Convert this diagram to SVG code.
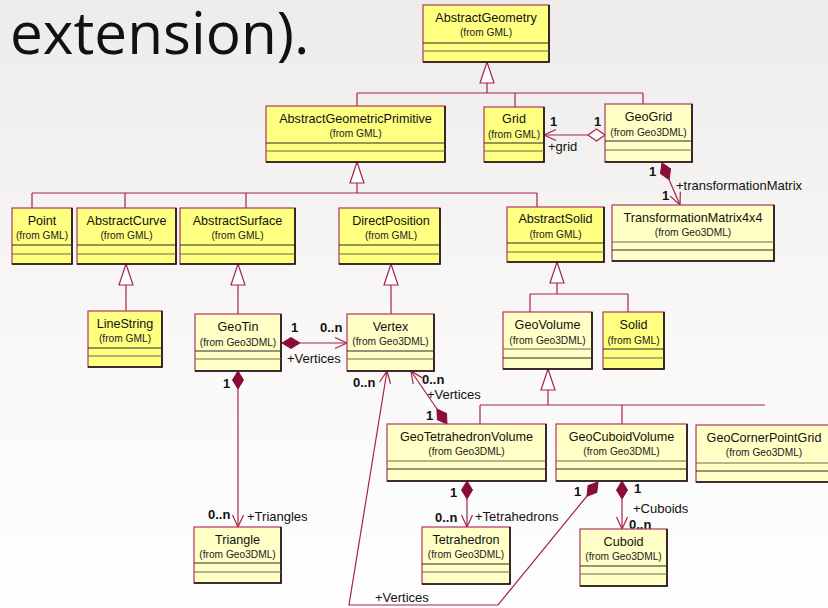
<svg xmlns="http://www.w3.org/2000/svg" xmlns:xlink="http://www.w3.org/1999/xlink" width="828" height="608" viewBox="0 0 828 608">
  <defs>
    <linearGradient id="bg" x1="0" y1="0" x2="0" y2="1">
      <stop offset="0" stop-color="#eeeceb"/>
      <stop offset="0.5" stop-color="#f8f7f6"/>
      <stop offset="1" stop-color="#fefefe"/>
    </linearGradient>
    <!-- composition diamond, pointing along +x from its origin -->
    <path id="dFill" d="M0 0 L9 -5.5 L18 0 L9 5.5 Z" fill="#8a0c38" stroke="#8a0c38" stroke-width="1"/>
    <!-- aggregation diamond -->
    <path id="dOpen" d="M0 0 L8.5 -6 L17 0 L8.5 6 Z" fill="#ffffff" stroke="#a5224f" stroke-width="1.2"/>
    <!-- open navigation arrow, tip at origin -->
    <path id="arr" d="M-12 -5.5 L0 0 L-12 5.5" fill="none" stroke="#a5224f" stroke-width="1.2"/>
    <!-- generalization triangle, tip at origin, pointing up -->
    <path id="gen" d="M0 0 L-7 21 L7 21 Z" fill="#ffffff" stroke="#a5224f" stroke-width="1.2"/>
  </defs>
  <style>
    .gml { fill: #ffff80; }
    .g3d { fill: #ffffc6; }
    .frame { stroke: #b03663; stroke-width: 1.2; }
    .shade { fill: none; stroke: #111; stroke-width: 1.6; }
    .sep1 { stroke: #2b2b2b; stroke-width: 1.2; }
    .sep2 { stroke: #6d6b50; stroke-width: 1.2; }
    .title { font-family: "Liberation Sans", Arial, sans-serif; font-size: 12.6px; fill: #111; text-anchor: middle; }
    .from { font-family: "Liberation Sans", Arial, sans-serif; font-size: 10.2px; fill: #222; text-anchor: middle; }
    .lbl { font-family: "Liberation Sans", Arial, sans-serif; font-size: 13px; fill: #111; }
    .mul { font-family: "Liberation Sans", Arial, sans-serif; font-size: 13px; font-weight: bold; fill: #111; }
    .conn { fill: none; stroke: #a5224f; stroke-width: 1.2; }
  </style>

  <rect x="0" y="0" width="828" height="608" fill="url(#bg)"/>

  <text x="10" y="54" font-family="'Open Sans', 'Noto Sans', sans-serif" font-size="58.5" fill="#111">extension).</text>

  <!-- connectors -->
  <g id="connectors">
    <!-- AbstractGeometry specialisations -->
    <path class="conn" d="M487 83 V93 M357 93 H643 M357 93 V106 M515 93 V107 M643 93 V104"/>
    <use href="#gen" x="487" y="62"/>
    <!-- AbstractGeometricPrimitive specialisations -->
    <path class="conn" d="M357 183 V193 M32 193 H537 M32 193 V208 M125 193 V208 M246 193 V208 M537 193 V207"/>
    <use href="#gen" x="357" y="162"/>
    <!-- AbstractCurve -> LineString -->
    <path class="conn" d="M126 285 V311"/>
    <use href="#gen" x="126" y="264"/>
    <!-- AbstractSurface -> GeoTin -->
    <path class="conn" d="M238 285 V314"/>
    <use href="#gen" x="238" y="264"/>
    <!-- DirectPosition -> Vertex -->
    <path class="conn" d="M391 285 V314"/>
    <use href="#gen" x="391" y="264"/>
    <!-- AbstractSolid -> GeoVolume, Solid -->
    <path class="conn" d="M557 283 V294 M530 294 H628 M530 294 V312 M628 294 V312"/>
    <use href="#gen" x="557" y="262"/>
    <!-- GeoVolume -> volume kinds -->
    <path class="conn" d="M548 390 V405 M480 405 H765 M480 405 V424 M622 405 V424"/>
    <use href="#gen" x="548" y="369"/>

    <!-- GeoGrid o-> Grid -->
    <path class="conn" d="M544 135 H588"/>
    <use href="#dOpen" transform="translate(605,135) rotate(180)"/>
    <use href="#arr" transform="translate(544,135) rotate(180)"/>

    <!-- GeoGrid *-> TransformationMatrix4x4 -->
    <path class="conn" d="M669 179.5 L680 205"/>
    <use href="#dFill" transform="translate(662,163) rotate(66.8)"/>
    <use href="#arr" transform="translate(680,205) rotate(66.8)"/>

    <!-- GeoTin *-> Vertex -->
    <path class="conn" d="M300 343 H347"/>
    <use href="#dFill" transform="translate(282,343) rotate(0)"/>
    <use href="#arr" transform="translate(347,343)"/>

    <!-- GeoTin *-> Triangle -->
    <path class="conn" d="M238 389 V527"/>
    <use href="#dFill" transform="translate(238,371) rotate(90)"/>
    <use href="#arr" transform="translate(238,527) rotate(90)"/>

    <!-- GeoTetrahedronVolume *-> Tetrahedron -->
    <path class="conn" d="M467 499 V527"/>
    <use href="#dFill" transform="translate(467,481) rotate(90)"/>
    <use href="#arr" transform="translate(467,527) rotate(90)"/>

    <!-- GeoCuboidVolume *-> Cuboid -->
    <path class="conn" d="M622 499 V529"/>
    <use href="#dFill" transform="translate(622,481) rotate(90)"/>
    <use href="#arr" transform="translate(622,529) rotate(90)"/>

    <!-- GeoTetrahedronVolume *-> Vertex -->
    <path class="conn" d="M437 409 L411 371"/>
    <use href="#dFill" transform="translate(447,424) rotate(-124)"/>
    <use href="#arr" transform="translate(411,371) rotate(-124)"/>

    <!-- GeoCuboidVolume *-> Vertex -->
    <path class="conn" d="M587 496 L498 605 H349 L387 371"/>
    <use href="#dFill" transform="translate(598,482) rotate(128)"/>
    <use href="#arr" transform="translate(387,371) rotate(-80.8)"/>

    <!-- role names and multiplicities -->
    <text class="mul" x="550" y="126">1</text>
    <text class="mul" x="594" y="126">1</text>
    <text class="lbl" x="548" y="151">+grid</text>

    <text class="mul" x="649" y="176">1</text>
    <text class="lbl" x="676" y="190">+transformationMatrix</text>
    <text class="mul" x="662" y="200">1</text>

    <text class="mul" x="291" y="332">1</text>
    <text class="mul" x="320" y="332">0..n</text>
    <text class="lbl" x="287" y="363">+Vertices</text>

    <text class="mul" x="223" y="388">1</text>
    <text class="mul" x="208" y="519">0..n</text>
    <text class="lbl" x="247" y="521">+Triangles</text>

    <text class="mul" x="450" y="497">1</text>
    <text class="mul" x="435" y="522">0..n</text>
    <text class="lbl" x="475" y="521">+Tetrahedrons</text>

    <text class="mul" x="634" y="493">1</text>
    <text class="lbl" x="633" y="513">+Cuboids</text>
    <text class="mul" x="629" y="529">0..n</text>

    <text class="mul" x="574" y="496">1</text>
    <text class="mul" x="422" y="384">0..n</text>
    <text class="lbl" x="427" y="399">+Vertices</text>
    <text class="mul" x="426" y="420">1</text>

    <text class="mul" x="353" y="387">0..n</text>
    <text class="lbl" x="375" y="602">+Vertices</text>
  </g>

  <!-- classes -->
  <g id="AbstractGeometry">
    <rect class="gml frame" x="423" y="5" width="126" height="57"/>
    <path class="shade" d="M549 5 V62 H423"/>
    <line class="sep1" x1="423" y1="43" x2="549" y2="43"/>
    <line class="sep2" x1="423" y1="51" x2="549" y2="51"/>
    <text class="title" x="486" y="22">AbstractGeometry</text>
    <text class="from" x="486" y="36">(from GML)</text>
  </g>

  <g id="AbstractGeometricPrimitive">
    <rect class="gml frame" x="266" y="106" width="179" height="56"/>
    <path class="shade" d="M445 106 V162 H266"/>
    <line class="sep1" x1="266" y1="143" x2="445" y2="143"/>
    <line class="sep2" x1="266" y1="151" x2="445" y2="151"/>
    <text class="title" x="355.5" y="123">AbstractGeometricPrimitive</text>
    <text class="from" x="355.5" y="137">(from GML)</text>
  </g>

  <g id="Grid">
    <rect class="gml frame" x="484" y="107" width="60" height="55"/>
    <path class="shade" d="M544 107 V162 H484"/>
    <line class="sep1" x1="484" y1="143" x2="544" y2="143"/>
    <line class="sep2" x1="484" y1="151" x2="544" y2="151"/>
    <text class="title" x="514" y="123">Grid</text>
    <text class="from" x="514" y="138">(from GML)</text>
  </g>

  <g id="GeoGrid">
    <rect class="g3d frame" x="605" y="104" width="87" height="58"/>
    <path class="shade" d="M692 104 V162 H605"/>
    <line class="sep1" x1="605" y1="141" x2="692" y2="141"/>
    <line class="sep2" x1="605" y1="150" x2="692" y2="150"/>
    <text class="title" x="648.5" y="121">GeoGrid</text>
    <text class="from" x="648.5" y="136">(from Geo3DML)</text>
  </g>

  <g id="TransformationMatrix4x4">
    <rect class="g3d frame" x="612" y="205" width="162" height="56"/>
    <path class="shade" d="M774 205 V261 H612"/>
    <line class="sep2" x1="612" y1="242" x2="774" y2="242"/>
    <line class="sep1" x1="612" y1="250" x2="774" y2="250"/>
    <text class="title" x="693" y="222">TransformationMatrix4x4</text>
    <text class="from" x="693" y="236">(from Geo3DML)</text>
  </g>

  <g id="Point">
    <rect class="gml frame" x="12" y="208" width="60" height="56"/>
    <path class="shade" d="M72 208 V264 H12"/>
    <line class="sep1" x1="12" y1="245" x2="72" y2="245"/>
    <line class="sep2" x1="12" y1="254" x2="72" y2="254"/>
    <text class="title" x="42" y="225">Point</text>
    <text class="from" x="42" y="239">(from GML)</text>
  </g>

  <g id="AbstractCurve">
    <rect class="gml frame" x="77" y="208" width="99" height="56"/>
    <path class="shade" d="M176 208 V264 H77"/>
    <line class="sep1" x1="77" y1="245" x2="176" y2="245"/>
    <line class="sep2" x1="77" y1="254" x2="176" y2="254"/>
    <text class="title" x="126.5" y="225">AbstractCurve</text>
    <text class="from" x="126.5" y="239">(from GML)</text>
  </g>

  <g id="AbstractSurface">
    <rect class="gml frame" x="180" y="208" width="115" height="56"/>
    <path class="shade" d="M295 208 V264 H180"/>
    <line class="sep1" x1="180" y1="245" x2="295" y2="245"/>
    <line class="sep2" x1="180" y1="254" x2="295" y2="254"/>
    <text class="title" x="237.5" y="225">AbstractSurface</text>
    <text class="from" x="237.5" y="239">(from GML)</text>
  </g>

  <g id="DirectPosition">
    <rect class="gml frame" x="339" y="208" width="101" height="56"/>
    <path class="shade" d="M440 208 V264 H339"/>
    <line class="sep1" x1="339" y1="245" x2="440" y2="245"/>
    <line class="sep2" x1="339" y1="254" x2="440" y2="254"/>
    <text class="title" x="391" y="225">DirectPosition</text>
    <text class="from" x="391" y="239">(from GML)</text>
  </g>

  <g id="AbstractSolid">
    <rect class="gml frame" x="507" y="207" width="97" height="55"/>
    <path class="shade" d="M604 207 V262 H507"/>
    <line class="sep1" x1="507" y1="243" x2="604" y2="243"/>
    <line class="sep2" x1="507" y1="252" x2="604" y2="252"/>
    <text class="title" x="555.5" y="223">AbstractSolid</text>
    <text class="from" x="555.5" y="238">(from GML)</text>
  </g>

  <g id="LineString">
    <rect class="gml frame" x="88" y="311" width="74" height="56"/>
    <path class="shade" d="M162 311 V367 H88"/>
    <line class="sep1" x1="88" y1="348" x2="162" y2="348"/>
    <line class="sep2" x1="88" y1="356" x2="162" y2="356"/>
    <text class="title" x="125" y="328">LineString</text>
    <text class="from" x="125" y="342">(from GML)</text>
  </g>

  <g id="GeoTin">
    <rect class="g3d frame" x="195" y="314" width="86" height="57"/>
    <path class="shade" d="M281 314 V371 H195"/>
    <line class="sep1" x1="195" y1="351" x2="281" y2="351"/>
    <line class="sep2" x1="195" y1="359" x2="281" y2="359"/>
    <text class="title" x="238" y="331">GeoTin</text>
    <text class="from" x="238" y="346">(from Geo3DML)</text>
  </g>

  <g id="Vertex">
    <rect class="g3d frame" x="347" y="314" width="87" height="57"/>
    <path class="shade" d="M434 314 V371 H347"/>
    <line class="sep1" x1="347" y1="351" x2="434" y2="351"/>
    <line class="sep2" x1="347" y1="359" x2="434" y2="359"/>
    <text class="title" x="390.5" y="331">Vertex</text>
    <text class="from" x="390.5" y="345">(from Geo3DML)</text>
  </g>

  <g id="GeoVolume">
    <rect class="g3d frame" x="503" y="312" width="89" height="57"/>
    <path class="shade" d="M592 312 V369 H503"/>
    <line class="sep2" x1="503" y1="349" x2="592" y2="349"/>
    <line class="sep1" x1="503" y1="358" x2="592" y2="358"/>
    <text class="title" x="547.5" y="329">GeoVolume</text>
    <text class="from" x="547.5" y="344">(from Geo3DML)</text>
  </g>

  <g id="Solid">
    <rect class="gml frame" x="603" y="312" width="61" height="57"/>
    <path class="shade" d="M664 312 V369 H603"/>
    <line class="sep1" x1="603" y1="349" x2="664" y2="349"/>
    <line class="sep2" x1="603" y1="358" x2="664" y2="358"/>
    <text class="title" x="633.5" y="329">Solid</text>
    <text class="from" x="633.5" y="344">(from GML)</text>
  </g>

  <g id="GeoTetrahedronVolume">
    <rect class="g3d frame" x="387" y="424" width="159" height="57"/>
    <path class="shade" d="M546 424 V481 H387"/>
    <line class="sep2" x1="387" y1="461" x2="546" y2="461"/>
    <line class="sep1" x1="387" y1="469" x2="546" y2="469"/>
    <text class="title" x="466.5" y="441">GeoTetrahedronVolume</text>
    <text class="from" x="466.5" y="455">(from Geo3DML)</text>
  </g>

  <g id="GeoCuboidVolume">
    <rect class="g3d frame" x="556" y="424" width="131" height="57"/>
    <path class="shade" d="M687 424 V481 H556"/>
    <line class="sep2" x1="556" y1="461" x2="687" y2="461"/>
    <line class="sep1" x1="556" y1="469" x2="687" y2="469"/>
    <text class="title" x="621.5" y="441">GeoCuboidVolume</text>
    <text class="from" x="621.5" y="455">(from Geo3DML)</text>
  </g>

  <g id="GeoCornerPointGrid">
    <rect class="g3d frame" x="696" y="425" width="140" height="57"/>
    <path class="shade" d="M696 482 H836"/>
    <line class="sep2" x1="696" y1="463" x2="836" y2="463"/>
    <line class="sep1" x1="696" y1="471" x2="836" y2="471"/>
    <text class="title" x="764" y="442">GeoCornerPointGrid</text>
    <text class="from" x="764" y="456">(from Geo3DML)</text>
  </g>

  <g id="Tetrahedron">
    <rect class="g3d frame" x="422" y="527" width="88" height="57"/>
    <path class="shade" d="M510 527 V584 H422"/>
    <line class="sep1" x1="422" y1="564" x2="510" y2="564"/>
    <line class="sep2" x1="422" y1="572" x2="510" y2="572"/>
    <text class="title" x="466" y="544">Tetrahedron</text>
    <text class="from" x="466" y="558">(from Geo3DML)</text>
  </g>

  <g id="Cuboid">
    <rect class="g3d frame" x="580" y="529" width="87" height="57"/>
    <path class="shade" d="M667 529 V586 H580"/>
    <line class="sep1" x1="580" y1="566" x2="667" y2="566"/>
    <line class="sep2" x1="580" y1="574" x2="667" y2="574"/>
    <text class="title" x="623.5" y="546">Cuboid</text>
    <text class="from" x="623.5" y="560">(from Geo3DML)</text>
  </g>

  <g id="Triangle">
    <rect class="g3d frame" x="194" y="527" width="87" height="56"/>
    <path class="shade" d="M281 527 V583 H194"/>
    <line class="sep1" x1="194" y1="563" x2="281" y2="563"/>
    <line class="sep2" x1="194" y1="572" x2="281" y2="572"/>
    <text class="title" x="237.5" y="544">Triangle</text>
    <text class="from" x="237.5" y="558">(from Geo3DML)</text>
  </g>
</svg>
